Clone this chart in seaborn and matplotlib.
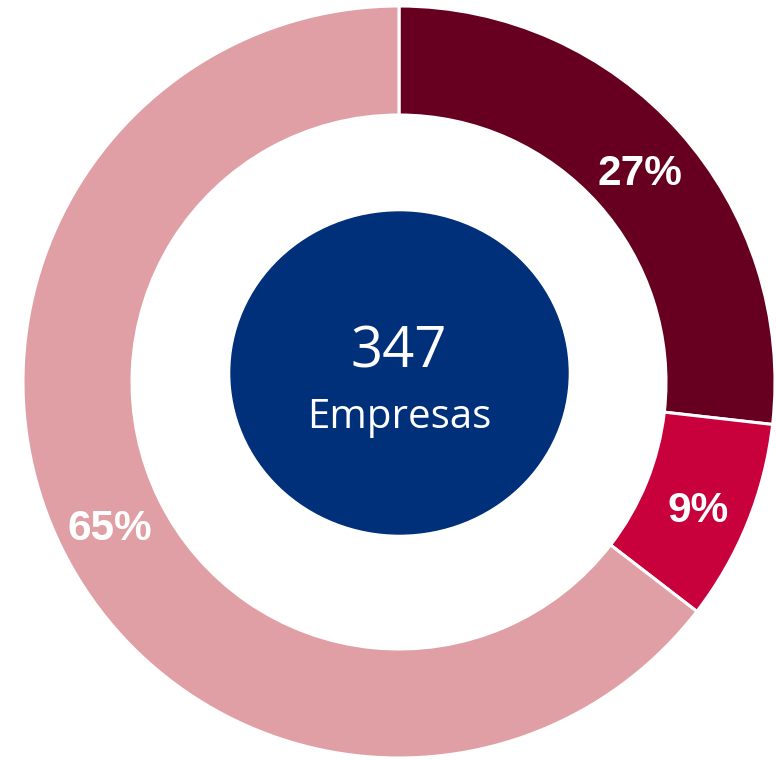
import matplotlib
matplotlib.use("Agg")
import matplotlib.pyplot as plt
from matplotlib.patches import Ellipse
import seaborn as sns

# data (companies per group, 347 in total)
groups = ["A", "B", "C"]
counts = [93, 30, 224]
pct_labels = ["27%", "9%", "65%"]
colors = ["#670020", "#C8003C", "#E09FA4"]
total_label = "347"
total_caption = "Empresas"

sns.set_style("white")

fig = plt.figure(figsize=(7.76, 7.6), dpi=100)
ax = fig.add_axes([0, 0, 1, 1])

# donut ring, starting at 12 o'clock going clockwise
wedges, _ = ax.pie(counts, radius=376, startangle=90, counterclock=False,
                   colors=colors,
                   wedgeprops=dict(width=109, edgecolor="white", linewidth=2.2))

# percentage labels
label_pos = [(241, 197), (299, -140), (-289, -158)]
for (x, y), txt in zip(label_pos, pct_labels):
    ax.text(x, y, txt, ha="center", va="baseline", color="white",
            fontsize=30.5, fontweight="bold", family=["Liberation Sans", "DejaVu Sans"])

# navy centre disc with the total
ax.add_patch(Ellipse((0.5, 9), 337, 322, color="#00307A", zorder=3))
ax.text(0, 15, total_label, ha="center", va="baseline", color="white",
        fontsize=40.5, family=["Open Sans", "DejaVu Sans"], zorder=4)
ax.text(0, -46, total_caption, ha="center", va="baseline", color="white",
        fontsize=29, family=["Open Sans", "DejaVu Sans"], zorder=4)

ax.set_xlim(-399, 377)
ax.set_ylim(-378, 382)
ax.set_aspect("auto")
ax.axis("off")

fig.savefig("out.png", dpi=100, facecolor="white")
